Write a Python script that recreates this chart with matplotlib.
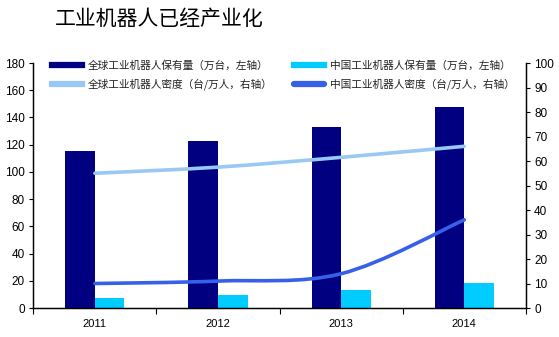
import numpy as np
import matplotlib.pyplot as plt
from matplotlib.path import Path
from matplotlib.patches import PathPatch
from matplotlib.lines import Line2D

plt.rcParams['font.family'] = ['Liberation Sans', 'Noto Sans CJK SC', 'DejaVu Sans']

# -------- DATA --------
years = ["2011", "2012", "2013", "2014"]
global_stock = [115, 123, 133, 148]      # 万台, left axis
china_stock = [7, 9.5, 13, 18.5]         # 万台, left axis
global_density = [55, 57.5, 61.5, 66]    # 台/万人, right axis
china_density = [10, 11, 14, 36]         # 台/万人, right axis

labels = [
    "全球工业机器人保有量（万台，左轴）",
    "中国工业机器人保有量（万台，左轴）",
    "全球工业机器人密度（台/万人，右轴）",
    "中国工业机器人密度（台/万人，右轴）",
]

NAVY = "#000080"
CYAN = "#00CCFF"
LIGHT = "#99C8F5"
BLUE = "#3760E8"


# -------- SMOOTH LINE (Excel style bezier) --------
def smooth_path(xs, ys, t=1/6):
    xs = np.asarray(xs, float)
    ys = np.asarray(ys, float)
    n = len(xs)
    verts = [(xs[0], ys[0])]
    codes = [Path.MOVETO]
    for i in range(n - 1):
        p0 = (xs[max(i - 1, 0)], ys[max(i - 1, 0)])
        p1 = (xs[i], ys[i])
        p2 = (xs[i + 1], ys[i + 1])
        p3 = (xs[min(i + 2, n - 1)], ys[min(i + 2, n - 1)])
        c1 = (p1[0] + (p2[0] - p0[0]) * t, p1[1] + (p2[1] - p0[1]) * t)
        c2 = (p2[0] - (p3[0] - p1[0]) * t, p2[1] - (p3[1] - p1[1]) * t)
        verts += [c1, c2, p2]
        codes += [Path.CURVE4] * 3
    return Path(verts, codes)


fig = plt.figure(figsize=(5.59, 3.37), dpi=100)
ax = fig.add_axes([0.0596, 0.086, 0.881, 0.727])
ax2 = ax.twinx()

x = np.arange(len(years))
w = 0.24
ax.bar(x - w / 2, global_stock, w, color=NAVY, zorder=2)
ax.bar(x + w / 2, china_stock, w, color=CYAN, zorder=2)

ax2.add_patch(PathPatch(smooth_path(x, global_density), fill=False,
                        edgecolor=LIGHT, lw=2.6, capstyle='round'))
ax2.add_patch(PathPatch(smooth_path(x, china_density), fill=False,
                        edgecolor=BLUE, lw=2.6, capstyle='round'))

ax.set_xlim(-0.5, len(years) - 0.5)
ax.set_ylim(0, 180)
ax.set_yticks(np.arange(0, 181, 20))
ax2.set_ylim(0, 100)
ax2.set_yticks(np.arange(0, 101, 10))

ax.set_xticks(x)
ax.set_xticklabels(years)
ax.set_xticks(np.arange(-0.5, len(years)), minor=True)
ax.tick_params(axis='x', which='major', length=0, pad=8, labelsize=8)
ax.tick_params(axis='x', which='minor', length=4, width=0.8, direction='out')
ax.tick_params(axis='y', length=3, width=0.8, pad=3, labelsize=8.5)
ax2.tick_params(axis='y', length=3, width=0.8, pad=3, labelsize=8.5)

for a in (ax, ax2):
    a.spines['top'].set_visible(False)
    for s in ('left', 'right', 'bottom'):
        a.spines[s].set_linewidth(0.9)

# -------- LEGEND --------
handles = [
    Line2D([], [], color=NAVY, lw=4.5),
    Line2D([], [], color=CYAN, lw=4.5),
    Line2D([], [], color=LIGHT, lw=4.5),
    Line2D([], [], color=BLUE, lw=4.5, solid_capstyle='round'),
]
order = [0, 2, 1, 3]
leg = ax.legend([handles[i] for i in order], [labels[i] for i in order],
                ncol=2, loc='upper left', bbox_to_anchor=(0.018, 1.05),
                frameon=False, handlelength=2.8, handletextpad=0.55,
                columnspacing=2.0, labelspacing=0.72,
                prop={'family': ['Noto Sans CJK SC'], 'size': 7.7})
for t in leg.get_texts():
    t.set_color("#222222")

fig.text(0.098, 0.945, "工业机器人已经产业化", fontsize=15,
         family=['Noto Sans CJK SC'], weight='medium', ha='left', va='center')

fig.savefig("out.png", dpi=100)
